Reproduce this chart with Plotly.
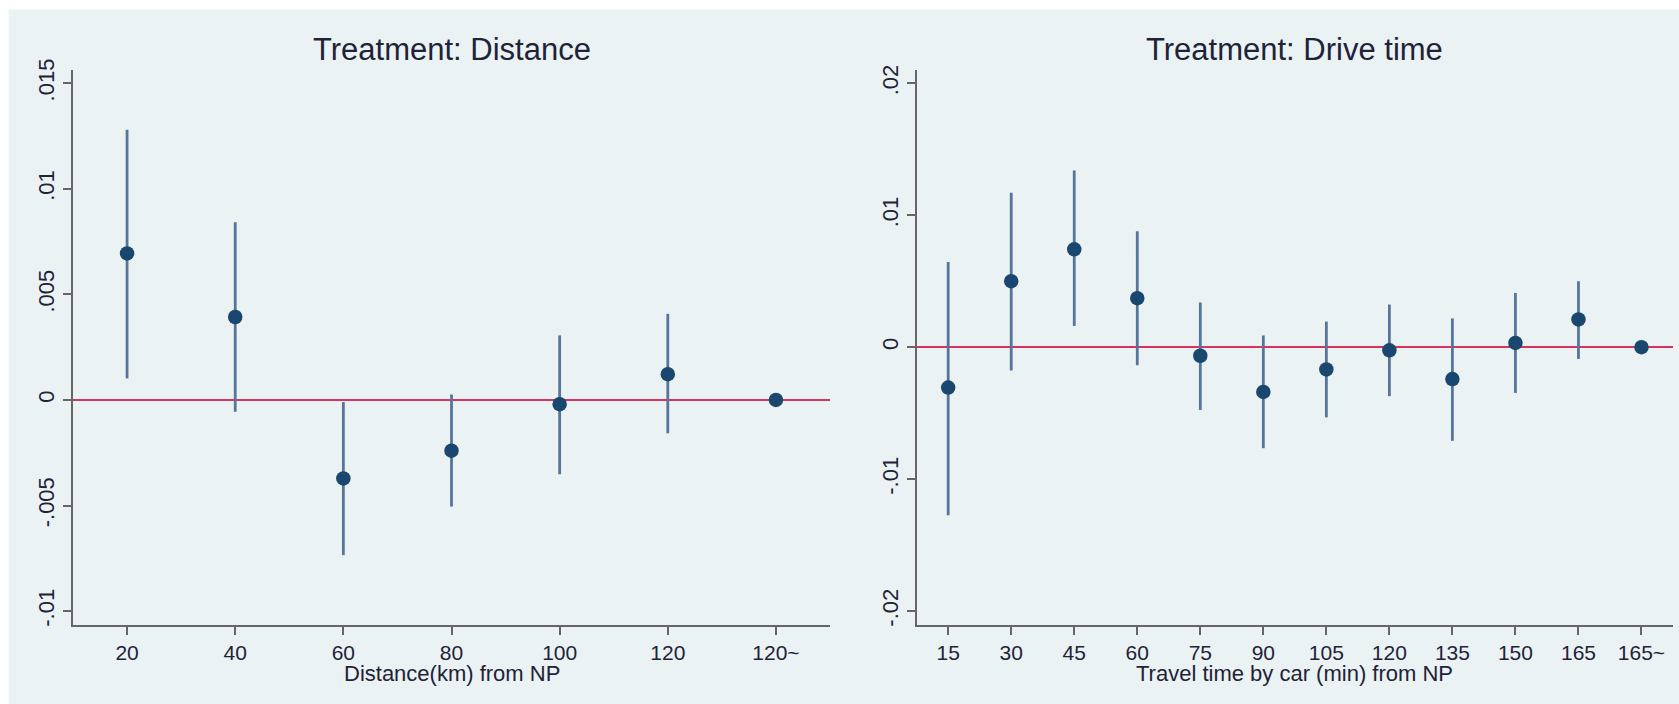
import plotly.graph_objects as go

# ---------------- data ----------------
dist_labels = ["20", "40", "60", "80", "100", "120", "120~"]
dist_coef = [0.00694, 0.00393, -0.00372, -0.00240, -0.00020, 0.00122, 0.0]
dist_hi = [0.01280, 0.00842, -0.00010, 0.00026, 0.00306, 0.00408, 0.0]
dist_lo = [0.00102, -0.00056, -0.00735, -0.00505, -0.00352, -0.00158, 0.0]

time_labels = ["15", "30", "45", "60", "75", "90", "105", "120", "135", "150", "165", "165~"]
time_coef = [-0.00306, 0.00500, 0.00742, 0.00371, -0.00065, -0.00339, -0.00169, -0.00024,
             -0.00242, 0.00032, 0.00210, 0.0]
time_hi = [0.00645, 0.01170, 0.01339, 0.00879, 0.00339, 0.00089, 0.00194, 0.00323,
           0.00218, 0.00411, 0.00500, 0.0]
time_lo = [-0.01274, -0.00177, 0.00161, -0.00137, -0.00476, -0.00766, -0.00532, -0.00371,
           -0.00710, -0.00347, -0.00089, 0.0]

dist_yticks = [0.015, 0.01, 0.005, 0, -0.005, -0.01]
dist_yticktext = [".015", ".01", ".005", "0", "-.005", "-.01"]
time_yticks = [0.02, 0.01, 0, -0.01, -0.02]
time_yticktext = [".02", ".01", "0", "-.01", "-.02"]

panel_titles = ["Treatment: Distance", "Treatment: Drive time"]
x_titles = ["Distance(km) from NP", "Travel time by car (min) from NP"]

# ---------------- styles ----------------
BG = "#EAF2F3"
NAVY = "#1A476F"
CI_COLOR = "#56759A"
RED = "#D6335F"
AXIS = "#666666"
TXT = "#1f2238"
FONT = "Liberation Sans"

W, H = 1679, 704
ML, MR, MT, MB = 72.7, 5.7, 70, 79
PW = W - ML - MR
PH = H - MT - MB
d1 = [0, (830 - ML) / PW]
d2 = [(916.7 - ML) / PW, 1]

fig = go.Figure()


def add_panel(labels, coef, hi, lo, xa, ya):
    xs = list(range(1, len(labels) + 1))
    plus = [h - c for h, c in zip(hi, coef)]
    minus = [c - l for c, l in zip(coef, lo)]
    fig.add_trace(go.Scatter(
        x=xs, y=coef, mode="markers", xaxis=xa, yaxis=ya,
        marker=dict(color=NAVY, size=14.5, line=dict(width=0)),
        error_y=dict(type="data", symmetric=False, array=plus, arrayminus=minus,
                     color=CI_COLOR, thickness=2.8, width=0),
        showlegend=False, hoverinfo="x+y"))


add_panel(dist_labels, dist_coef, dist_hi, dist_lo, "x", "y")
add_panel(time_labels, time_coef, time_hi, time_lo, "x2", "y2")

axis_common = dict(showline=True, linecolor=AXIS, linewidth=2, ticks="outside",
                   ticklen=8, tickwidth=1.5, tickcolor=AXIS, mirror=False)
xtickfont = dict(family=FONT, size=21, color=TXT)
ytickfont = dict(family=FONT, size=22, color=TXT)

fig.update_layout(
    width=W, height=H, autosize=False,
    margin=dict(l=ML, r=MR, t=MT, b=MB, pad=0),
    paper_bgcolor="white", plot_bgcolor="white",
    xaxis=dict(domain=d1, anchor="y", range=[0.5, 7.5], tickvals=list(range(1, 8)),
               ticktext=dist_labels, showgrid=False, zeroline=False, tickfont=xtickfont,
               **axis_common),
    yaxis=dict(domain=[0, 1], anchor="x", range=[-0.01066, 0.01563], tickvals=dist_yticks,
               ticktext=dist_yticktext, tickangle=-90, showgrid=True, gridcolor=BG,
               gridwidth=1.5, zeroline=True, zerolinecolor=RED, zerolinewidth=2,
               tickfont=ytickfont, **axis_common),
    xaxis2=dict(domain=d2, anchor="y2", range=[0.5, 12.5], tickvals=list(range(1, 13)),
                ticktext=time_labels, showgrid=False, zeroline=False, tickfont=xtickfont,
                **axis_common),
    yaxis2=dict(domain=[0, 1], anchor="x2", range=[-0.02106, 0.02101], tickvals=time_yticks,
                ticktext=time_yticktext, tickangle=-90, showgrid=True, gridcolor=BG,
                gridwidth=1.5, zeroline=True, zerolinecolor=RED, zerolinewidth=2,
                tickfont=ytickfont, **axis_common),
)

# background region
fig.add_shape(type="rect", xref="paper", yref="paper",
              x0=(8.3 - ML) / PW, x1=1.02, y0=-0.3, y1=1 + (MT - 9.5) / PH,
              fillcolor=BG, line=dict(width=0), layer="below")

# panel titles and x-axis titles
for dom, t, xt in [(d1, panel_titles[0], x_titles[0]), (d2, panel_titles[1], x_titles[1])]:
    cx = (dom[0] + dom[1]) / 2
    fig.add_annotation(text=t, xref="paper", yref="paper", x=cx, y=1 + (MT - 50) / PH,
                       xanchor="center", yanchor="middle", showarrow=False,
                       font=dict(family=FONT, size=31, color=TXT))
    fig.add_annotation(text=xt, xref="paper", yref="paper", x=cx, y=-(673 - (H - MB)) / PH,
                       xanchor="center", yanchor="middle", showarrow=False,
                       font=dict(family=FONT, size=22, color=TXT))

fig.write_html("out.html", config={"displayModeBar": False},
               post_script="document.body.style.margin='0';document.body.style.overflow='hidden';")
